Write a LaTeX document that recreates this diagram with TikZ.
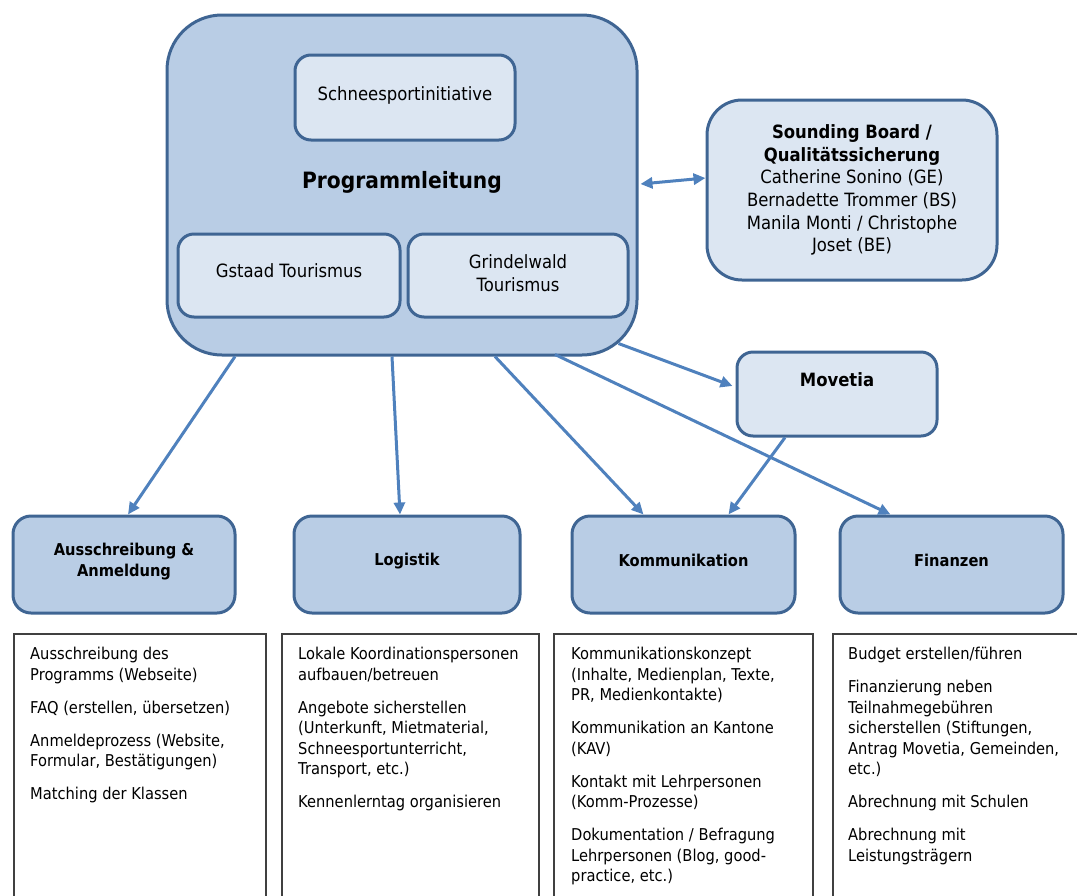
\documentclass[tikz,border=0pt]{standalone}
\usepackage{fontspec}
\setmainfont{DejaVu Sans}[FakeStretch=0.9]
\usetikzlibrary{arrows.meta,calc}
\definecolor{bfill}{HTML}{B9CDE5}
\definecolor{lfill}{HTML}{DCE6F2}
\definecolor{bdraw}{HTML}{3F6593}
\definecolor{arr}{HTML}{4F81BD}
\definecolor{gbox}{HTML}{404040}
\tikzset{
  rbox/.style={draw=bdraw, line width=3pt, rectangle, inner sep=0pt},
  outerbox/.style={rbox, fill=bfill, rounded corners=55pt},
  innerbox/.style={rbox, fill=lfill, rounded corners=16pt},
  unitbox/.style={rbox, fill=bfill, rounded corners=18pt},
  listbox/.style={draw=gbox, line width=1.3pt, fill=white, rectangle, inner sep=0pt},
  uptext/.style={inner sep=0pt, align=center, font=\fontsize{18.3}{22.6}\selectfont},
  titletext/.style={inner sep=0pt, align=center, font=\fontsize{16.3}{21}\selectfont\bfseries},
  listtext/.style={inner sep=0pt, align=left, anchor=north west, font=\fontsize{16.3}{20.5}\selectfont},
  conn/.style={draw=arr, line width=3pt, -{Triangle[length=12pt,width=11pt]}},
  dconn/.style={draw=arr, line width=3pt, {Triangle[length=12pt,width=11pt]}-{Triangle[length=12pt,width=11pt]}}
}
\begin{document}
\begin{tikzpicture}[x=1pt,y=-1pt]
\useasboundingbox (0,0) rectangle (1077,895);
% main block
\node[outerbox, minimum width=470pt, minimum height=340pt] (main) at (402,185) {};
\node[innerbox, minimum width=220pt, minimum height=85pt] (schnee) at (405,97.5) {};
\node[uptext] (schneet) at (405,95) {Schneesportinitiative};
\node[inner sep=0pt, font=\fontsize{22.5}{27}\selectfont\bfseries] (mainlabel) at (402,182) {Programmleitung};
\node[innerbox, minimum width=222pt, minimum height=83pt] (gstaad) at (289,275.5) {};
\node[uptext] (gstaadt) at (289,271) {Gstaad Tourismus};
\node[innerbox, minimum width=220pt, minimum height=83pt] (grindel) at (518,275.5) {};
\node[uptext] (grindelt) at (518,273) {Grindelwald\\Tourismus};
% sounding board
\node[rbox, fill=lfill, rounded corners=35pt, minimum width=290pt, minimum height=180pt] (sound) at (852,190) {};
\node[uptext] (soundt) at (852,190) {\textbf{Sounding Board /}\\\textbf{Qualitätssicherung}\\Catherine Sonino (GE)\\Bernadette Trommer (BS)\\Manila Monti / Christophe\\Joset (BE)};
% movetia
\node[innerbox, minimum width=200pt, minimum height=84pt] (movetia) at (837,394) {};
\node[inner sep=0pt, font=\fontsize{18.3}{22}\selectfont\bfseries] (movetiat) at (837,380) {Movetia};
% unit boxes
\node[unitbox, minimum width=222pt, minimum height=97pt] (aus) at (124,564.5) {};
\node[titletext] (aust) at (124,562) {Ausschreibung \&\\Anmeldung};
\node[unitbox, minimum width=226pt, minimum height=97pt] (log) at (407,564.5) {};
\node[titletext] (logt) at (407,561) {Logistik};
\node[unitbox, minimum width=223pt, minimum height=97pt] (komm) at (683.5,564.5) {};
\node[titletext] (kommt) at (683.5,560) {Kommunikation};
\node[unitbox, minimum width=223pt, minimum height=97pt] (fin) at (951.5,564.5) {};
\node[titletext] (fint) at (951.5,560) {Finanzen};
% list boxes
\node[listbox, minimum width=252pt, minimum height=280pt] (l1) at (140,774) {};
\node[listbox, minimum width=257pt, minimum height=280pt] (l2) at (410.5,774) {};
\node[listbox, minimum width=259pt, minimum height=280pt] (l3) at (683.5,774) {};
\node[listbox, minimum width=260pt, minimum height=280pt] (l4) at (963,774) {};
\node[listtext] (l1t) at (30,647) {Ausschreibung des\\Programms (Webseite)\\[12.5pt]FAQ (erstellen, übersetzen)\\[12.5pt]Anmeldeprozess (Website,\\Formular, Bestätigungen)\\[12.5pt]Matching der Klassen};
\node[listtext] (l2t) at (298,647) {Lokale Koordinationspersonen\\aufbauen/betreuen\\[12.5pt]Angebote sicherstellen\\(Unterkunft, Mietmaterial,\\Schneesportunterricht,\\Transport, etc.)\\[12.5pt]Kennenlerntag organisieren};
\node[listtext] (l3t) at (571,647) {Kommunikationskonzept\\(Inhalte, Medienplan, Texte,\\PR, Medienkontakte)\\[12.5pt]Kommunikation an Kantone\\(KAV)\\[12.5pt]Kontakt mit Lehrpersonen\\(Komm-Prozesse)\\[12.5pt]Dokumentation / Befragung\\Lehrpersonen (Blog, good-\\practice, etc.)};
\node[listtext] (l4t) at (848,647) {Budget erstellen/führen\\[12.5pt]Finanzierung neben\\Teilnahmegebühren\\sicherstellen (Stiftungen,\\Antrag Movetia, Gemeinden,\\etc.)\\[12.5pt]Abrechnung mit Schulen\\[12.5pt]Abrechnung mit\\Leistungsträgern};
% connectors
\draw[dconn] ($(main.east)+(2,-1)$) -- ($(sound.west)+(0,-12)$);
\draw[conn] ($(main.south)+(-167,0)$) -- ($(aus.north)+(4,0)$);
\draw[conn] ($(main.south)+(-10,0)$) -- ($(log.north)+(-7,0)$);
\draw[conn] ($(main.south)+(93,0)$) -- ($(komm.north)+(-40,0)$);
\draw[conn] ($(main.south)+(153,-2)$) -- ($(fin.north)+(-61,0)$);
\draw[conn] ($(main.south east)+(-20,-13)$) -- ($(movetia.west)+(-3,-8)$);
\draw[conn] ($(movetia.south)+(-52,0)$) -- ($(komm.north)+(45,0)$);
\end{tikzpicture}
\end{document}
